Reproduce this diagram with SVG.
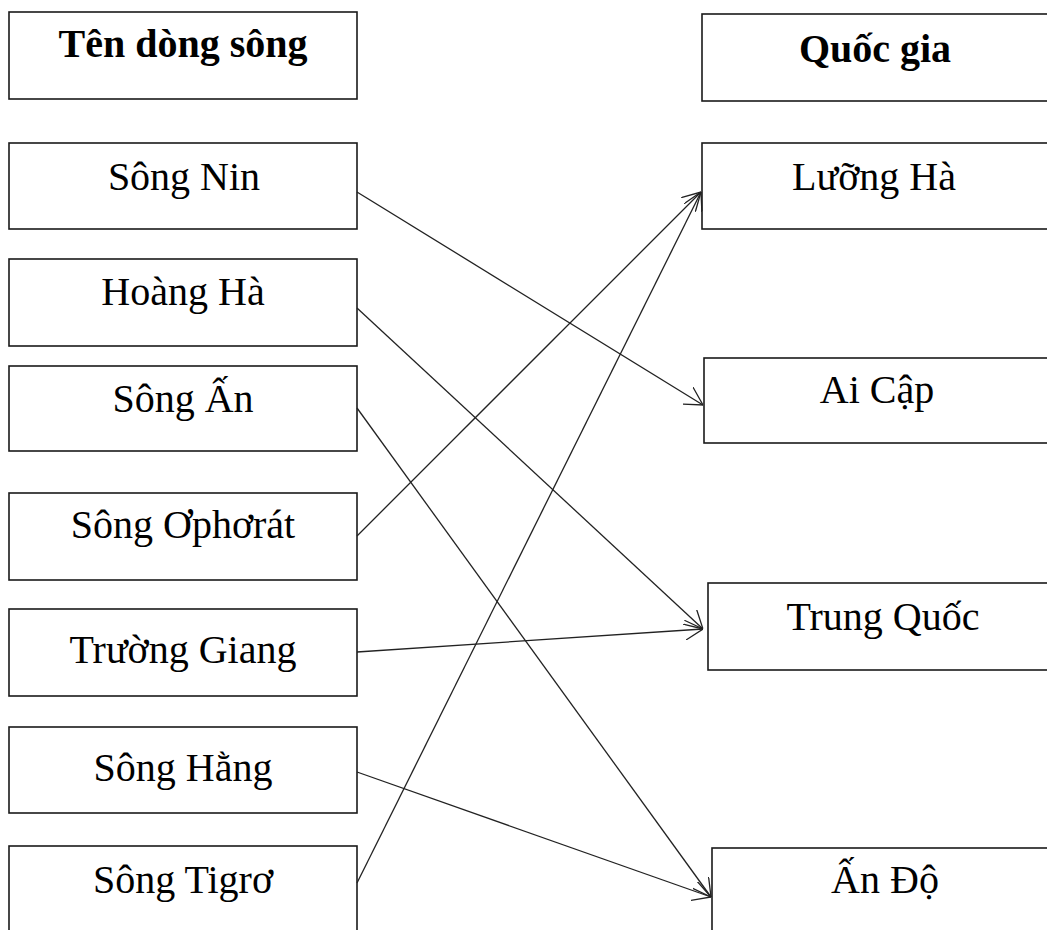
<svg xmlns="http://www.w3.org/2000/svg" width="1047" height="930" viewBox="0 0 1047 930">
<style>
.box{fill:#fff;stroke:#1a1a1a;stroke-width:1.6}
.t{font-family:"Liberation Serif","Times New Roman",serif;font-size:40px;fill:#000;text-anchor:middle}
.h{font-weight:bold}
.c{stroke:#222;stroke-width:1.3;fill:none}
</style>
<defs>
<marker id="ah" viewBox="0 0 18 20" refX="18" refY="10" markerWidth="18" markerHeight="20" markerUnits="userSpaceOnUse" orient="auto">
<path d="M0,0 L18,10 L0,20" fill="none" stroke="#222" stroke-width="1.3"/>
</marker>
</defs>
<rect width="1047" height="930" fill="#fff"/>
<g id="left-header"><rect class="box" x="9" y="12" width="348" height="87"/><text class="t h" x="183" y="57">Tên dòng sông</text></g>
<g id="song-nin"><rect class="box" x="9" y="143" width="348" height="86"/><text class="t" x="184" y="190">Sông Nin</text></g>
<g id="hoang-ha"><rect class="box" x="9" y="259" width="348" height="87"/><text class="t" x="183" y="305">Hoàng Hà</text></g>
<g id="song-an"><rect class="box" x="9" y="366" width="348" height="85"/><text class="t" x="183" y="412">Sông Ấn</text></g>
<g id="song-ophorat"><rect class="box" x="9" y="493" width="348" height="87"/><text class="t" x="183" y="538">Sông Ơphơrát</text></g>
<g id="truong-giang"><rect class="box" x="9" y="609" width="348" height="87"/><text class="t" x="183" y="663">Trường Giang</text></g>
<g id="song-hang"><rect class="box" x="9" y="727" width="348" height="86"/><text class="t" x="183" y="781">Sông Hằng</text></g>
<g id="song-tigro"><rect class="box" x="9" y="846" width="348" height="120"/><text class="t" x="183" y="893">Sông Tigrơ</text></g>
<g id="right-header"><rect class="box" x="702" y="14" width="348" height="87"/><text class="t h" x="875" y="62">Quốc gia</text></g>
<g id="luong-ha"><rect class="box" x="702" y="143" width="348" height="86"/><text class="t" x="874" y="190">Lưỡng Hà</text></g>
<g id="ai-cap"><rect class="box" x="704" y="358" width="348" height="85"/><text class="t" x="877" y="403">Ai Cập</text></g>
<g id="trung-quoc"><rect class="box" x="708" y="583" width="350" height="87"/><text class="t" x="883" y="630">Trung Quốc</text></g>
<g id="an-do"><rect class="box" x="712" y="848" width="350" height="120"/><text class="t" x="885" y="893">Ấn Độ</text></g>
<g id="connectors">
<line class="c" x1="357" y1="192" x2="703" y2="405" marker-end="url(#ah)"/>
<line class="c" x1="357" y1="308" x2="703" y2="629" marker-end="url(#ah)"/>
<line class="c" x1="357" y1="408" x2="711" y2="897" marker-end="url(#ah)"/>
<line class="c" x1="357" y1="536" x2="701" y2="192" marker-end="url(#ah)"/>
<line class="c" x1="357" y1="652" x2="703" y2="629" marker-end="url(#ah)"/>
<line class="c" x1="357" y1="772" x2="711" y2="897" marker-end="url(#ah)"/>
<line class="c" x1="357" y1="883" x2="701" y2="192" marker-end="url(#ah)"/>
</g>
</svg>
